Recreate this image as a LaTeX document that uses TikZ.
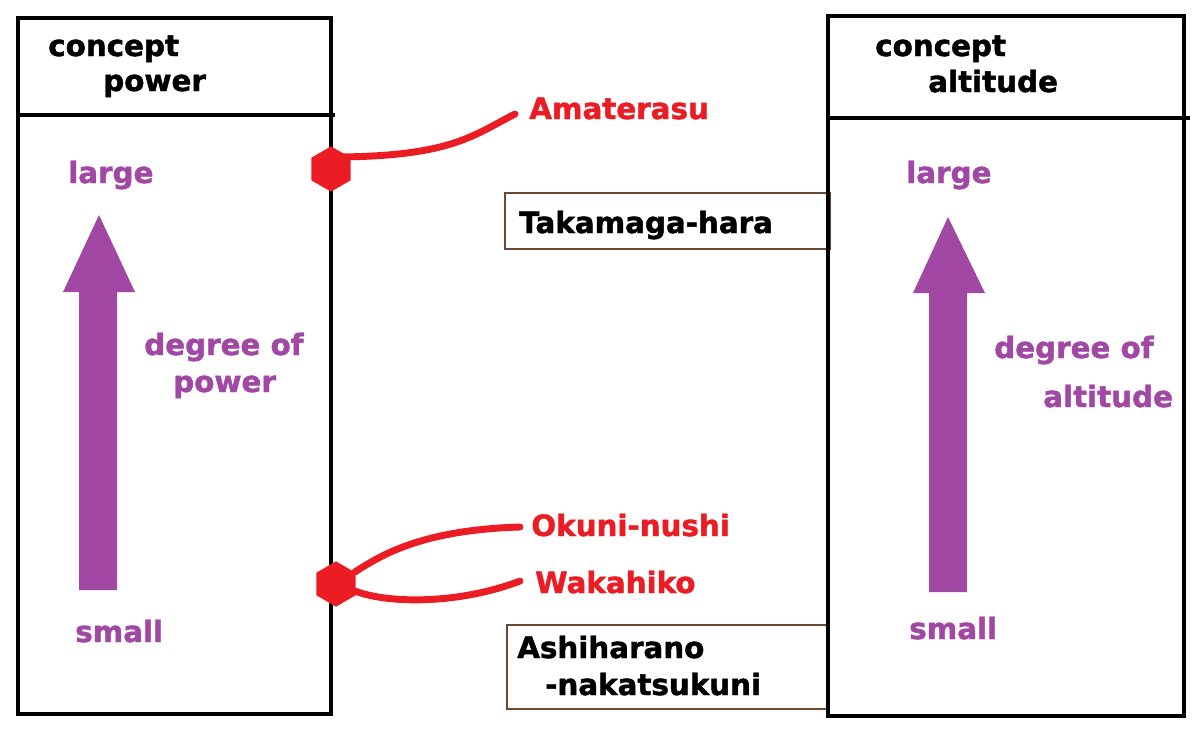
\documentclass[tikz,border=0pt]{standalone}
\usepackage{fontspec}
\setmainfont{DejaVu Sans}[BoldFeatures={FakeBold=1.5}]
\usetikzlibrary{shapes.geometric,calc}
\definecolor{degpurple}{RGB}{160,72,164}
\definecolor{godred}{RGB}{236,28,36}
\definecolor{placebrown}{RGB}{110,72,50}
\tikzset{
  txt/.style={anchor=base west,inner sep=0pt,font=\fontsize{22}{26}\selectfont\bfseries},
  degtxt/.style={txt,text=degpurple},
  godtxt/.style={txt,text=godred},
  godmark/.style={regular polygon,regular polygon sides=6,shape border rotate=30,fill=godred,inner sep=0pt,minimum size=34pt},
  godline/.style={draw=godred,line width=5.2pt,line cap=round},
  panel/.style={line width=3.4pt},
  placebox/.style={draw=placebrown,line width=2.2pt},
  bigarrow/.style={fill=degpurple}
}
\begin{document}
\begin{tikzpicture}[x=0.75pt,y=-0.75pt]
\useasboundingbox (0,0) rectangle (1200,733);
% places
\draw[placebox] (505,193) rectangle (830,249);
\draw[placebox] (507,625) rectangle (828,709);
\node[txt] (takama) at (519,233) {Takamaga-hara};
\node[txt] (ashi1) at (517,658) {Ashiharano};
\node[txt] (ashi2) at (545,695) {-nakatsukuni};
% concept power
\draw[panel] (18,18) rectangle (331,714);
\draw[panel] (18,115) -- (335,115);
\node[txt] (powHead1) at (48,56) {concept};
\node[txt] (powHead2) at (103,91) {power};
\fill[bigarrow] (79,590) -- (79,292) -- (63,292) -- (99,215) -- (135,292) -- (117,292) -- (117,590) -- cycle;
\node[degtxt] (powLarge) at (68,183) {large};
\node[degtxt] (powSmall) at (75,642) {small};
\node[degtxt] (powDeg1) at (144,355) {degree of};
\node[degtxt] (powDeg2) at (173,392) {power};
% concept altitude
\draw[panel] (828,16) rectangle (1184,716);
\draw[panel] (828,118) -- (1190,118);
\node[txt] (altHead1) at (875,56) {concept};
\node[txt] (altHead2) at (928,92) {altitude};
\fill[bigarrow] (929,592) -- (929,293) -- (913,293) -- (948,217) -- (985,293) -- (967,293) -- (967,592) -- cycle;
\node[degtxt] (altLarge) at (906,183) {large};
\node[degtxt] (altSmall) at (909,639) {small};
\node[degtxt] (altDeg1) at (994,358) {degree of};
\node[degtxt] (altDeg2) at (1043,407) {altitude};
% gods
\node[godmark] (hexA) at (331,169) {};
\node[godmark] (hexB) at (336,584) {};
\node[godtxt] (amat) at (529,119) {Amaterasu};
\node[godtxt] (okuni) at (531,536) {Okuni-nushi};
\node[godtxt] (waka) at (535,593) {Wakahiko};
\coordinate (amatEnd) at (515,114);
\coordinate (okuniEnd) at (520,527);
\coordinate (wakaEnd) at (520,581);
\draw[godline] ($(hexA)+(0,-12)$) .. controls (450,157) and (472,136) .. (amatEnd);
\draw[godline] (hexB) .. controls (380,556) and (420,530) .. (okuniEnd);
\draw[godline] (hexB) .. controls (390,604) and (460,604) .. (wakaEnd);
\end{tikzpicture}
\end{document}
